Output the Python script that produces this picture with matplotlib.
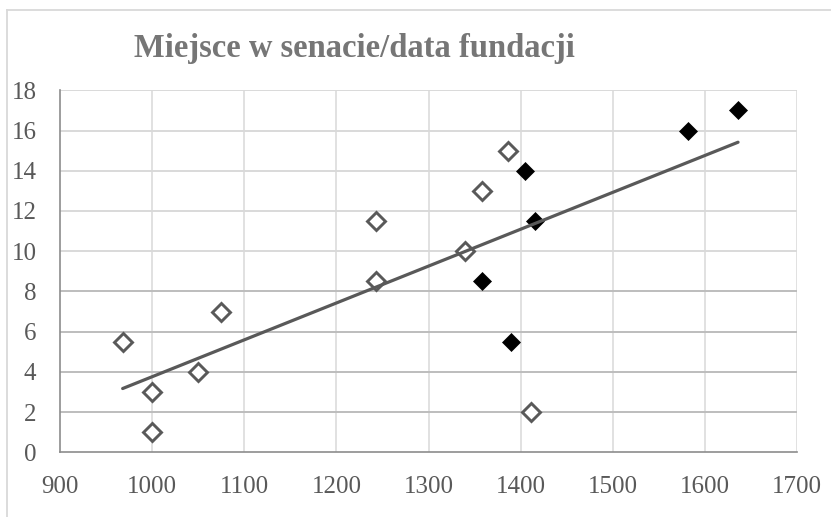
import numpy as np
import matplotlib
matplotlib.use("Agg")
import matplotlib.pyplot as plt
from matplotlib.lines import Line2D

title = "Miejsce w senacie/data fundacji"

open_x = [968, 1000, 1000, 1050, 1075, 1243, 1243, 1340, 1358, 1386, 1411]
open_y = [5.5, 3, 1, 4, 7, 11.5, 8.5, 10, 13, 15, 2]
filled_x = [1358, 1390, 1405, 1416, 1582, 1636]
filled_y = [8.5, 5.5, 14, 11.5, 16, 17]

x_ticks = [900, 1000, 1100, 1200, 1300, 1400, 1500, 1600, 1700]
y_ticks = [0, 2, 4, 6, 8, 10, 12, 14, 16, 18]

W, H = 831, 517
fig = plt.figure(figsize=(W / 100, H / 100), dpi=100)
fig.patch.set_facecolor("white")

# outer chart border (left and top)
fig.add_artist(Line2D([7 / W, 7 / W], [0, 1 - 10 / H], transform=fig.transFigure,
                      color="#d9d9d9", lw=1.3))
fig.add_artist(Line2D([7 / W, 1], [1 - 10 / H, 1 - 10 / H], transform=fig.transFigure,
                      color="#d9d9d9", lw=1.3))

left, right = 60 / W, 797 / W
bottom, top = 1 - 452.3 / H, 1 - 90.3 / H
ax = fig.add_axes([left, bottom, right - left, top - bottom])
ax.set_xlim(900, 1700)
ax.set_ylim(0, 18)

# gridlines
for xv in x_ticks[1:]:
    ax.axvline(xv, color="#d9d9d9", lw=1.1, zorder=0)
for yv in y_ticks[1:]:
    c = "#bdbdbd" if yv <= 8 else "#d9d9d9"
    ax.axhline(yv, color=c, lw=1.4, zorder=0)

for s in ["top", "right"]:
    ax.spines[s].set_visible(False)
for s in ["left", "bottom"]:
    ax.spines[s].set_color("#8c8c8c")
    ax.spines[s].set_linewidth(1.2)

ax.plot(open_x, open_y, linestyle="none", marker="D", ms=8.8, mfc="white",
        mec="#595959", mew=2.1, zorder=3)
ax.plot(filled_x, filled_y, linestyle="none", marker="D", ms=9.5, mfc="black",
        mec="black", mew=0.5, zorder=3)

all_x = np.array(open_x + filled_x, dtype=float)
all_y = np.array(open_y + filled_y, dtype=float)
k, b = np.polyfit(all_x, all_y, 1)
xs = np.array([all_x.min(), all_x.max()])
ax.plot(xs, k * xs + b, color="#595959", lw=2.3, solid_capstyle="round", zorder=4)

ax.set_xticks(x_ticks)
ax.set_yticks(y_ticks)
ax.set_xticklabels([str(v) for v in x_ticks])
ax.set_yticklabels([str(v) for v in y_ticks])
ax.tick_params(length=0, labelsize=18, labelcolor="#595959")
for lab in ax.get_xticklabels() + ax.get_yticklabels():
    lab.set_fontfamily("Liberation Serif")
ax.tick_params(axis="y", pad=17)
ax.tick_params(axis="x", pad=17)

fig.text(354.5 / W, 1 - 57 / H, title, ha="center", va="baseline",
         fontfamily="Liberation Serif", fontweight="bold", fontsize=23.5,
         color="#767676")

fig.savefig("out.png", dpi=100)
